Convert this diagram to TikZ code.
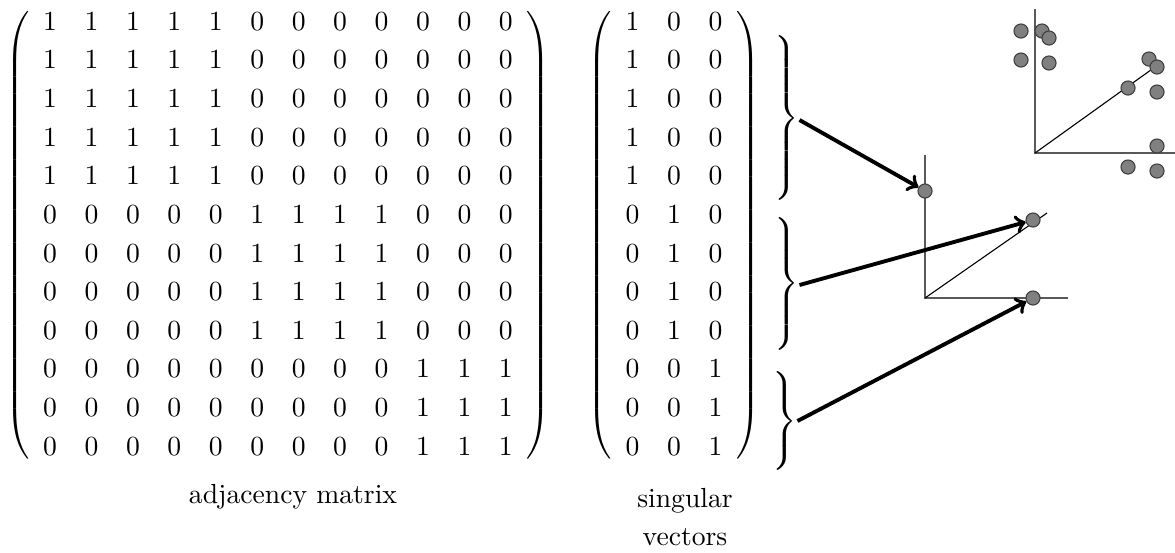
\documentclass[tikz,border=0pt]{standalone}
\usepackage{amsmath}
\renewcommand{\arraystretch}{1.165}
\begin{document}
\begin{tikzpicture}[x=0.362pt,y=-0.362pt,
    dot/.style={circle,draw=black!75,fill=black!50,line width=0.4pt,inner sep=0pt,minimum size=5.1pt},
    axis/.style={draw=black!65,line width=0.5pt},
    ray/.style={line width=0.4pt},
    map/.style={->,line width=1.4pt}]
    \useasboundingbox (0,0) rectangle (1175,552);
    \delimitershortfall=8pt
    \delimiterfactor=850
    % the two matrices
    \node[inner sep=0pt] (adj) at (278,235) {$\left(\begin{array}{cccccccccccc}
        1&1&1&1&1&0&0&0&0&0&0&0\\
        1&1&1&1&1&0&0&0&0&0&0&0\\
        1&1&1&1&1&0&0&0&0&0&0&0\\
        1&1&1&1&1&0&0&0&0&0&0&0\\
        1&1&1&1&1&0&0&0&0&0&0&0\\
        0&0&0&0&0&1&1&1&1&0&0&0\\
        0&0&0&0&0&1&1&1&1&0&0&0\\
        0&0&0&0&0&1&1&1&1&0&0&0\\
        0&0&0&0&0&1&1&1&1&0&0&0\\
        0&0&0&0&0&0&0&0&0&1&1&1\\
        0&0&0&0&0&0&0&0&0&1&1&1\\
        0&0&0&0&0&0&0&0&0&1&1&1
    \end{array}\right)$};
    \node[inner sep=0pt] (sv) at (674,235) {$\left(\begin{array}{ccc}
        1&0&0\\ 1&0&0\\ 1&0&0\\ 1&0&0\\ 1&0&0\\
        0&1&0\\ 0&1&0\\ 0&1&0\\ 0&1&0\\
        0&0&1\\ 0&0&1\\ 0&0&1
    \end{array}\right)$};
    \node (adjlabel) at (293,497) {adjacency matrix};
    \node[align=center] (svlabel) at (685,517) {singular\\[2pt]vectors};
    % braces for the three groups
    \node[inner sep=0pt] (grp1) at (785,120) {$\left.\vrule height 29pt depth 29pt width 0pt\right\}$};
    \node[inner sep=0pt] (grp2) at (785,285) {$\left.\vrule height 22.5pt depth 22.5pt width 0pt\right\}$};
    \node[inner sep=0pt] (grp3) at (783,421) {$\left.\vrule height 15.5pt depth 15.5pt width 0pt\right\}$};
    % small plot
    \draw[axis] (925,155) -- (925,298) -- (1068,298);
    \draw[ray] (925,298) -- (1047,213);
    \node[dot] (v1) at (925,191) {};
    \node[dot] (v2) at (1033,220) {};
    \node[dot] (v3) at (1033,298) {};
    % big plot
    \draw[axis] (1035,9) -- (1035,153) -- (1175,153);
    \draw[ray] (1035,153) -- (1155,67);
    \foreach \px/\py [count=\i] in {1021/31,1042/31,1049/38,1021/60,1049/63,1149/59,1157/67,
        1128/88,1157/92,1157/146,1128/167,1157/171}
        \node[dot] (p\i) at (\px,\py) {};
    % arrows
    \draw[map] (grp1.east) -- (v1);
    \draw[map] (grp2.east) -- (v2);
    \draw[map] (grp3.east) -- (v3);
\end{tikzpicture}
\end{document}
